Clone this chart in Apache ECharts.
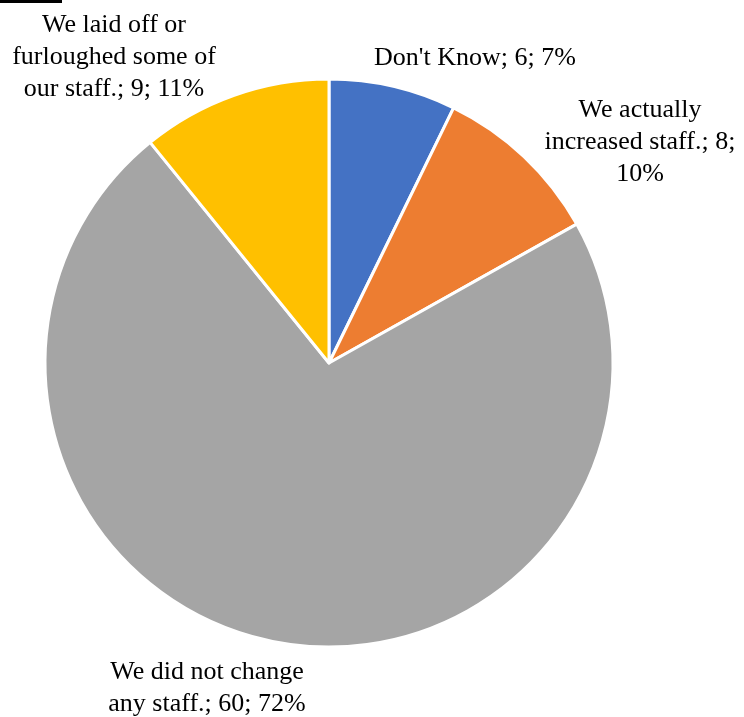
<!DOCTYPE html>
<html>
<head>
<meta charset="utf-8">
<style>
  html, body { margin: 0; padding: 0; background: #ffffff; }
  #chart { width: 744px; height: 717px; }
</style>
<script src="https://cdn.jsdelivr.net/npm/echarts@6/dist/echarts.min.js"></script>
</head>
<body>
<div id="chart"></div>
<script>
// Survey answers: how staffing changed
const categories = [
  "Don't Know",
  "We actually increased staff.",
  "We did not change any staff.",
  "We laid off or furloughed some of our staff."
];
const counts = [6, 8, 60, 9];
const percents = [7, 10, 72, 11];

// Label text broken into lines as it should wrap
const labelLines = [
  ["Don't Know; 6; 7%"],
  ["We actually", "increased staff.; 8;", "10%"],
  ["We did not change", "any staff.; 60; 72%"],
  ["We laid off or", "furloughed some of", "our staff.; 9; 11%"]
];

const colors = ['#4472C4', '#ED7D31', '#A5A5A5', '#FFC000'];

// Label anchor offsets from the pie centre, in pixels
const labelOffsets = [
  [146, -305],
  [311, -221],
  [-122, 325],
  [-215, -306]
];

const CX = 329, CY = 363, R = 284;

const chart = echarts.init(document.getElementById('chart'));
chart.setOption({
  backgroundColor: '#ffffff',
  animation: false,
  color: colors,
  graphic: [{
    type: 'rect',
    shape: { x: 0, y: 0, width: 62, height: 3 },
    style: { fill: '#000000' }
  }],
  series: [{
    type: 'pie',
    center: [CX, CY],
    radius: [0, R],
    startAngle: 90,
    clockwise: true,
    avoidLabelOverlap: false,
    itemStyle: { borderColor: '#ffffff', borderWidth: 3 },
    label: {
      show: true,
      position: 'outside',
      fontFamily: '"Liberation Serif", "Times New Roman", serif',
      fontSize: 26,
      lineHeight: 32,
      color: '#000000',
      align: 'center',
      formatter: p => labelLines[p.dataIndex].join('\n')
    },
    labelLine: { show: false },
    labelLayout: p => ({
      x: CX + labelOffsets[p.dataIndex][0],
      y: CY + labelOffsets[p.dataIndex][1],
      align: 'center',
      verticalAlign: 'middle'
    }),
    data: categories.map((c, i) => ({ name: c, value: counts[i], pct: percents[i] }))
  }]
});
</script>
</body>
</html>
